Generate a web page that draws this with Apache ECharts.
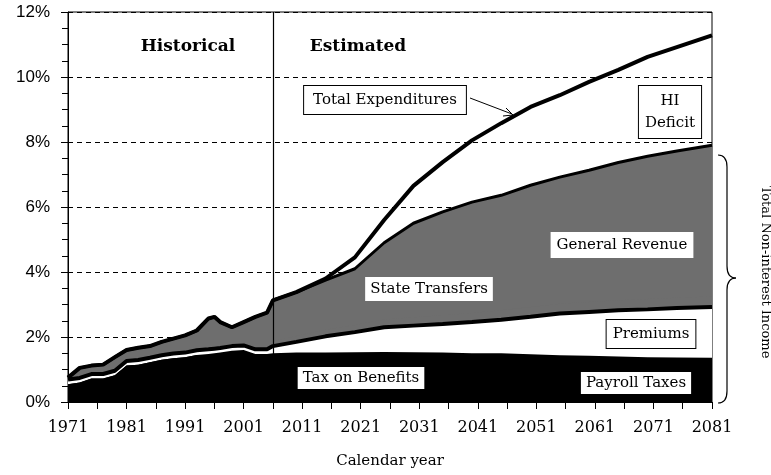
<!DOCTYPE html>
<html>
<head>
<meta charset="utf-8">
<script src="https://cdn.jsdelivr.net/npm/echarts@6/dist/echarts.min.js"></script>
<style>
  html, body { margin: 0; padding: 0; background: #fff; }
  #chart { width: 771px; height: 475px; }
</style>
</head>
<body>
<div id="chart"></div>
<script>
// percent of GDP
var years = [1971, 1973, 1975, 1977, 1979, 1981, 1983, 1985, 1987, 1989, 1991, 1993, 1995, 1996, 1997, 1999, 2001, 2003, 2005,
             2006, 2010, 2015, 2020, 2025, 2030, 2035, 2040, 2045, 2050, 2055, 2060, 2065, 2070, 2075, 2081];
var payrollTaxes = [0.55, 0.60, 0.72, 0.72, 0.82, 1.12, 1.15, 1.22, 1.30, 1.35, 1.38, 1.45, 1.40, 1.42, 1.43, 1.48, 1.50, 1.38, 1.38,
                    1.40, 1.40, 1.38, 1.37, 1.36, 1.34, 1.32, 1.29, 1.28, 1.25, 1.22, 1.20, 1.18, 1.16, 1.15, 1.14];
var taxOnBenefits = [0, 0, 0, 0, 0, 0, 0, 0, 0, 0, 0, 0, 0.08, 0.08, 0.09, 0.10, 0.10, 0.10, 0.10,
                     0.10, 0.12, 0.14, 0.16, 0.18, 0.19, 0.20, 0.21, 0.22, 0.22, 0.22, 0.22, 0.22, 0.22, 0.22, 0.22];
var premiums = [0.14, 0.14, 0.14, 0.14, 0.14, 0.14, 0.14, 0.14, 0.14, 0.14, 0.14, 0.14, 0.14, 0.14, 0.14, 0.14, 0.14, 0.14, 0.14,
                0.22, 0.33, 0.50, 0.62, 0.76, 0.82, 0.88, 0.96, 1.03, 1.15, 1.28, 1.35, 1.42, 1.47, 1.52, 1.56];
var stateTransfers = [0, 0, 0, 0, 0, 0, 0, 0, 0, 0, 0, 0, 0, 0, 0, 0, 0, 0, 0,
                      0.15, 0.18, 0.20, 0.22, 0.24, 0.26, 0.27, 0.28, 0.29, 0.30, 0.30, 0.31, 0.31, 0.32, 0.32, 0.33];
var generalRevenue = [0.06, 0.31, 0.26, 0.29, 0.42, 0.34, 0.38, 0.36, 0.41, 0.46, 0.53, 0.61, 0.95, 0.98, 0.80, 0.58, 0.72, 1.00, 1.13,
                      1.26, 1.35, 1.53, 1.73, 2.36, 2.89, 3.18, 3.41, 3.54, 3.75, 3.90, 4.05, 4.24, 4.39, 4.51, 4.65];
var totalExpenditures = [0.75, 1.05, 1.12, 1.15, 1.38, 1.60, 1.67, 1.72, 1.85, 1.95, 2.05, 2.20, 2.57, 2.62, 2.46, 2.30, 2.46, 2.62, 2.75,
                         3.13, 3.38, 3.80, 4.45, 5.60, 6.65, 7.38, 8.05, 8.58, 9.08, 9.44, 9.85, 10.22, 10.62, 10.92, 11.28];
var yearLabels = [1971, 1981, 1991, 2001, 2011, 2021, 2031, 2041, 2051, 2061, 2071, 2081];
var firstYear = 1971;
var lastYear = 2081;
var estimateStart = 2006;

// running totals of the income layers, bottom to top
function addUp(a, b) {
  return a.map(function (v, i) { return Math.round((v + b[i]) * 100) / 100; });
}
var topPayroll = payrollTaxes;
var topBenefits = addUp(topPayroll, taxOnBenefits);
var topPremiums = addUp(topBenefits, premiums);
var topState = addUp(topPremiums, stateTransfers);
var topGeneral = addUp(topState, generalRevenue);

// x axis runs in years since 1971 so the 5-year ticks start at the axis min
function pairs(vals) {
  return years.map(function (y, i) { return [y - firstYear, vals[i]]; });
}

// each layer is filled down to 0; upper layers are listed first so lower ones paint over them
function areaSeries(name, vals, color, lineWidth, z) {
  return {
    name: name,
    type: 'line',
    data: pairs(vals),
    showSymbol: false,
    z: z || 2,
    lineStyle: { color: '#000', width: lineWidth },
    areaStyle: { color: color, opacity: 1, origin: 'start' }
  };
}

var serif = '"DejaVu Serif", "Liberation Serif", serif';
var gray = '#6e6e6e';

var chart = echarts.init(document.getElementById('chart'));

var option = {
  animation: false,
  grid: {
    left: 68, right: 59, top: 12, bottom: 73,
    show: true, borderColor: '#000', borderWidth: 1
  },
  xAxis: {
    type: 'value',
    min: 0,
    max: lastYear - firstYear,
    interval: 5,
    name: 'Calendar year',
    nameLocation: 'middle',
    nameGap: 52,
    nameTextStyle: { fontFamily: serif, fontSize: 15, color: '#000' },
    axisLine: { lineStyle: { color: '#000', width: 1 } },
    axisTick: { length: 7, lineStyle: { color: '#000' } },
    axisLabel: {
      margin: 18,
      fontFamily: serif,
      fontSize: 16,
      color: '#000',
      formatter: function (v) {
        var y = v + firstYear;
        return yearLabels.indexOf(y) >= 0 ? String(y) : '';
      }
    },
    splitLine: { show: false }
  },
  yAxis: {
    type: 'value',
    min: 0,
    max: 12,
    interval: 2,
    axisLine: { show: true, lineStyle: { color: '#000', width: 1 } },
    axisTick: { show: true, length: 7, lineStyle: { color: '#000' } },
    minorTick: { show: true, splitNumber: 4, length: 6, lineStyle: { color: '#000' } },
    axisLabel: {
      margin: 18,
      fontFamily: '"Liberation Sans", Arial, sans-serif',
      fontSize: 17,
      color: '#000',
      formatter: '{value}%'
    },
    splitLine: { lineStyle: { color: '#000', type: [5, 4], width: 1 } }
  },
  series: [
    areaSeries('General Revenue', topGeneral, gray, 3),
    areaSeries('State Transfers', topState, gray, 0),
    areaSeries('Premiums', topPremiums, '#ffffff', 4, 3),
    areaSeries('Tax on Benefits', topBenefits, '#000000', 0, 3),
    areaSeries('Payroll Taxes', topPayroll, '#000000', 0, 3),
    {
      name: 'Total Expenditures',
      type: 'line',
      data: pairs(totalExpenditures),
      showSymbol: false,
      z: 4,
      lineStyle: { color: '#000', width: 4 },
      markLine: {
        silent: true,
        symbol: 'none',
        label: { show: false },
        lineStyle: { color: '#000', type: 'solid', width: 1.2 },
        data: [{ xAxis: estimateStart - firstYear }]
      }
    }
  ]
};

chart.setOption(option);

function box(x, y, text, opts) {
  opts = opts || {};
  return {
    type: 'text',
    z: 100,
    style: {
      text: text,
      x: x,
      y: y,
      align: 'center',
      verticalAlign: 'middle',
      font: (opts.size || 15) + 'px ' + serif,
      fill: '#000',
      backgroundColor: '#fff',
      borderColor: opts.border === false ? 'transparent' : '#000',
      borderWidth: opts.border === false ? 0 : 1,
      padding: opts.padding || [4, 7],
      lineHeight: opts.lineHeight || 18
    }
  };
}

function seg(x1, y1, x2, y2) {
  return { type: 'line', z: 100, shape: { x1: x1, y1: y1, x2: x2, y2: y2 }, style: { stroke: '#000', lineWidth: 1.2 } };
}
function curve(x1, y1, cx, cy, x2, y2) {
  return { type: 'bezierCurve', z: 100, shape: { x1: x1, y1: y1, cpx1: cx, cpy1: cy, x2: x2, y2: y2 }, style: { stroke: '#000', lineWidth: 1.2, fill: null } };
}

chart.setOption({
  graphic: [
    { type: 'text', z: 100, style: { text: 'Historical', x: 188, y: 47, align: 'center', verticalAlign: 'middle', font: 'bold 17px ' + serif, fill: '#000' } },
    { type: 'text', z: 100, style: { text: 'Estimated', x: 358, y: 47, align: 'center', verticalAlign: 'middle', font: 'bold 17px ' + serif, fill: '#000' } },
    box(385, 100, 'Total Expenditures', { padding: [5, 9] }),
    box(670, 112, 'HI\nDeficit', { padding: [4, 6], lineHeight: 22 }),
    box(622, 245, 'General Revenue', { border: false, padding: [4, 6] }),
    box(429, 289, 'State Transfers', { border: false, padding: [3, 5] }),
    box(651, 334, 'Premiums', { padding: [5, 6] }),
    box(636, 383, 'Payroll Taxes', { border: false, padding: [2, 5] }),
    box(361, 378, 'Tax on Benefits', { border: false, padding: [2, 5] }),
    // arrow from the label to the expenditure line
    { type: 'polyline', z: 100, shape: { points: [[470, 98], [512, 114]] }, style: { stroke: '#000', lineWidth: 1, fill: null } },
    { type: 'polyline', z: 100, shape: { points: [[503, 116], [513, 115], [506, 108]] }, style: { stroke: '#000', lineWidth: 1, fill: null } },
    // brace for total non-interest income
    curve(718, 155, 727, 155, 727, 167),
    seg(727, 167, 727, 266),
    curve(727, 266, 727, 278, 736, 278),
    curve(736, 278, 727, 278, 727, 290),
    seg(727, 290, 727, 391),
    curve(727, 391, 727, 403, 718, 403),
    {
      type: 'text', z: 100, x: 765, y: 272, rotation: -Math.PI / 2,
      style: { text: 'Total Non-interest Income', x: 0, y: 0, align: 'center', verticalAlign: 'middle', font: '13px ' + serif, fill: '#000' }
    }
  ]
});
</script>
</body>
</html>
